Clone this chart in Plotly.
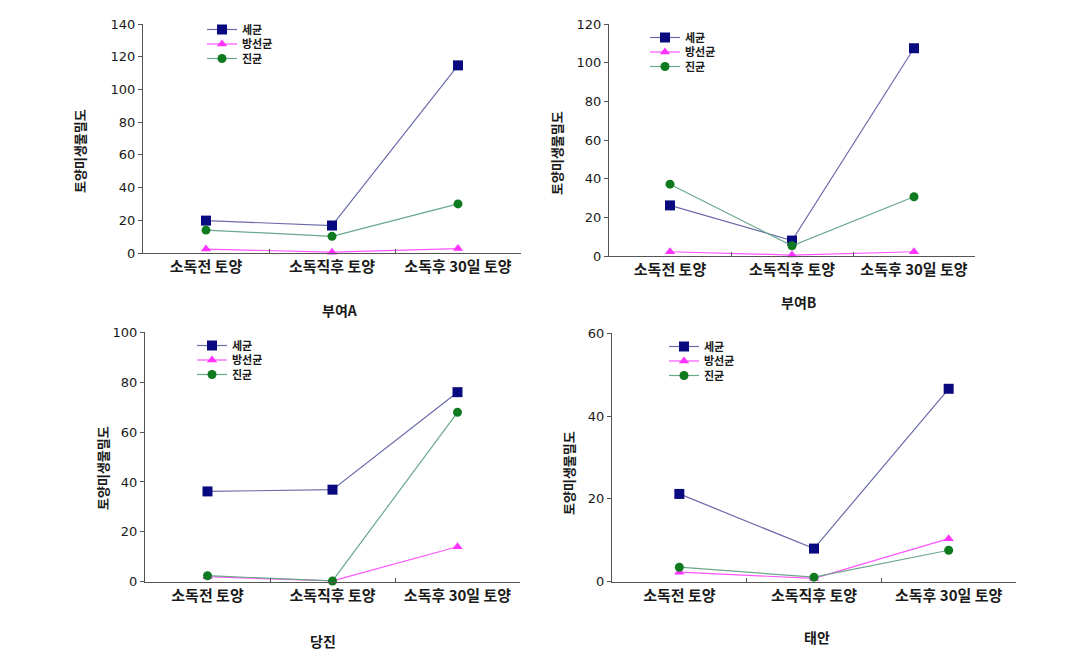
import plotly.graph_objects as go

categories = ["소독전 토양", "소독직후 토양", "소독후 30일 토양"]
series_names = ["세균", "방선균", "진균"]

# panel values: [세균, 방선균, 진균]
buyeoA_bacteria = [19.8, 16.8, 114.7]
buyeoA_actino = [2.4, 0.5, 2.7]
buyeoA_fungi = [14.0, 10.2, 30.0]

buyeoB_bacteria = [26.2, 8.0, 107.6]
buyeoB_actino = [2.2, 0.5, 2.2]
buyeoB_fungi = [37.2, 5.3, 30.7]

dangjin_bacteria = [36.2, 36.9, 76.0]
dangjin_actino = [2.0, 0.3, 14.0]
dangjin_fungi = [2.4, 0.3, 67.9]

taean_bacteria = [21.2, 8.0, 46.6]
taean_actino = [2.3, 0.8, 10.4]
taean_fungi = [3.5, 1.1, 7.6]

panel_titles = ["부여A", "부여B", "당진", "태안"]
y_title = "토양미생물밀도"
y_max = [140, 120, 100, 60]

panels = [
    (buyeoA_bacteria, buyeoA_actino, buyeoA_fungi),
    (buyeoB_bacteria, buyeoB_actino, buyeoB_fungi),
    (dangjin_bacteria, dangjin_actino, dangjin_fungi),
    (taean_bacteria, taean_actino, taean_fungi),
]

W, H = 1086, 659
# pixel boxes: (x0, x1, ytop, ybottom)
boxes = [
    (143, 521, 24, 253),
    (609, 975, 24.3, 256),
    (145, 520, 332.3, 581.7),
    (612, 1016, 333.3, 581.7),
]
legend_pos = [(202, 15), (645, 23), (192, 331), (664, 332)]
title_pos = [(340, 310), (798, 302), (323, 641), (817, 637)]
ytitle_pos = [(80, 151), (557, 153), (102, 468), (568, 473)]

marker_styles = [
    dict(symbol="square", size=10, color="#0a0a80", line=dict(width=0)),
    dict(symbol="triangle-up", size=9, color="#ff33ff", line=dict(width=0)),
    dict(symbol="circle", size=9, color="#0f7a1f", line=dict(width=0)),
]
line_colors = ["#6b6baa", "#ff55ff", "#6aa88a"]

KFONT = "Noto Sans CJK KR, sans-serif"
NFONT = "DejaVu Sans, sans-serif"
TXT = "#1a1a1a"

fig = go.Figure()
layout = dict(
    width=W, height=H,
    margin=dict(l=0, r=0, t=0, b=0),
    paper_bgcolor="white", plot_bgcolor="white",
    font=dict(family=KFONT, size=12, color=TXT),
    annotations=[],
)

for i, (vals, box) in enumerate(zip(panels, boxes)):
    ax = "" if i == 0 else str(i + 1)
    lg = "legend" if i == 0 else f"legend{i + 1}"
    for j, v in enumerate(vals):
        fig.add_trace(go.Scatter(
            x=categories, y=v, name=series_names[j], mode="lines+markers",
            marker=marker_styles[j], line=dict(color=line_colors[j], width=1.2),
            xaxis="x" + ax, yaxis="y" + ax, legend=lg, cliponaxis=False,
        ))
    x0, x1, yt, yb = box
    layout["xaxis" + ax] = dict(
        domain=[x0 / W, x1 / W], anchor="y" + ax,
        type="category", range=[-0.5, 2.5],
        showline=True, linecolor="#555", linewidth=1.2,
        ticks="inside", ticklen=4, tickcolor="#555", tickson="boundaries",
        showgrid=False, zeroline=False, automargin=False,
        tickfont=dict(family=KFONT, size=15, color=TXT, weight="bold"),
    )
    layout["yaxis" + ax] = dict(
        domain=[1 - yb / H, 1 - yt / H], anchor="x" + ax,
        range=[0, y_max[i]], dtick=20,
        showline=True, linecolor="#555", linewidth=1.2,
        ticks="outside", ticklen=4, tickcolor="#555",
        showgrid=False, zeroline=False, automargin=False,
        tickfont=dict(family=NFONT, size=13, color=TXT),
    )
    lx, ly = legend_pos[i]
    layout[lg] = dict(
        x=lx / W, y=1 - ly / H, xanchor="left", yanchor="top",
        bgcolor="rgba(0,0,0,0)", itemwidth=30, tracegroupgap=0,
        font=dict(family=KFONT, size=11, color=TXT, weight="bold"),
    )
    tx, ty = title_pos[i]
    layout["annotations"].append(dict(
        text=panel_titles[i], x=tx / W, y=1 - ty / H, xref="paper", yref="paper",
        xanchor="center", yanchor="middle",
        showarrow=False, font=dict(family=KFONT, size=14, color=TXT, weight="bold"),
    ))
    yx, yy = ytitle_pos[i]
    layout["annotations"].append(dict(
        text=y_title, x=yx / W, y=1 - yy / H, xref="paper", yref="paper",
        xanchor="center", yanchor="middle",
        showarrow=False, textangle=-90,
        font=dict(family=KFONT, size=13, color=TXT, weight="bold"),
    ))

fig.update_layout(**layout)

post_js = """
document.body.style.margin = '0';
try {
  var gd = document.getElementById('{plot_id}');
  var groups = new Map();
  gd.querySelectorAll('g.traces').forEach(function(t){
    var p = t.parentNode;
    if (!groups.has(p)) groups.set(p, []);
    groups.get(p).push(t);
  });
  groups.forEach(function(items){
    var y0 = null;
    items.forEach(function(t, i){
      var tr = t.getAttribute('transform') || '';
      var m = tr.match(/translate\\(\\s*([-\\d.e]+)[ ,]+([-\\d.e]+)\\s*\\)/);
      if (!m) return;
      var x = parseFloat(m[1]), y = parseFloat(m[2]);
      if (y0 === null) y0 = y;
      t.setAttribute('transform', 'translate(' + x + ',' + (y0 + i * 14.5) + ')');
    });
  });
} catch (e) {}
"""
fig.write_html("out.html", post_script=post_js, config={"displayModeBar": False})
